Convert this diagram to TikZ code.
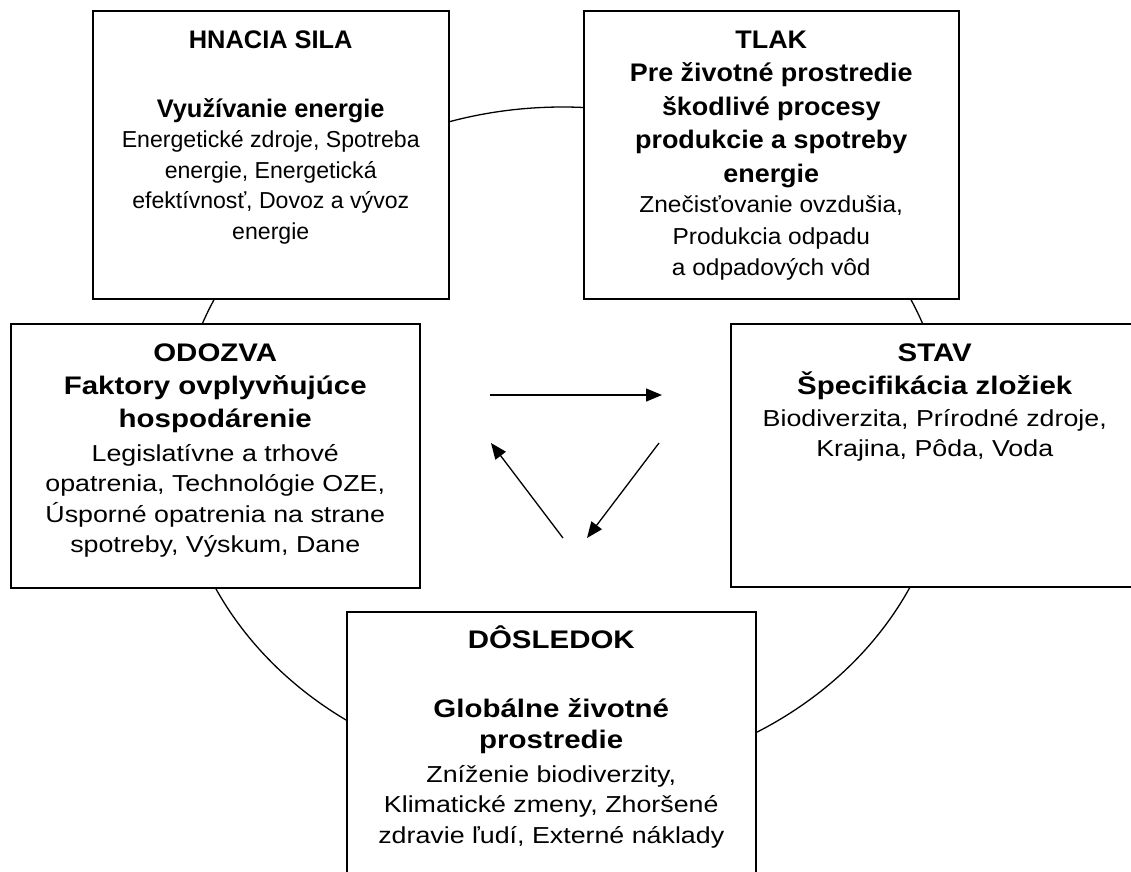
\documentclass[tikz,border=0pt]{standalone}
\usepackage{fontspec}
\setmainfont{Liberation Sans}
\newfontfamily\wideA[FakeStretch=1.06]{Liberation Sans}
\newfontfamily\wideB[FakeStretch=1.16]{Liberation Sans}
\usetikzlibrary{arrows.meta,positioning}

\newcommand{\bfnt}{\fontsize{25.4pt}{30.5pt}\selectfont\bfseries}
\newcommand{\nfnt}{\fontsize{23.1pt}{30.5pt}\selectfont}
\newcommand{\topstrut}{\rule{0pt}{24pt}}

\begin{document}
\begin{tikzpicture}[x=1pt,y=-1pt,
	box/.style={draw,line width=1.5pt,fill=white,anchor=north west,inner sep=0pt},
	boxtext/.style={anchor=north,align=center,inner sep=0pt,font=\nfnt},
	arr/.style={line width=1.3pt,-{Triangle[length=16pt,width=13pt]}}]
	\useasboundingbox (0,0) rectangle (1131,871);
	
	% cyklus za boxami
	\draw[line width=1.3pt] (562.5,442.5) ellipse [x radius=385, y radius=335.5];
	
	% boxy
	\node[box,minimum width=356pt,minimum height=288pt] (sila) at (92,10) {};
	\node[box,minimum width=375pt,minimum height=288pt] (tlak) at (583,10) {};
	\node[box,minimum width=409pt,minimum height=264pt] (odozva) at (10,323) {};
	\node[box,minimum width=408pt,minimum height=263pt] (stav) at (730,323) {};
	\node[box,minimum width=409pt,minimum height=300pt] (dosledok) at (346,611) {};
	
	% texty
	\node[boxtext,below=14pt of sila.north] (silatext) {\topstrut{\bfnt HNACIA SILA}\\[38.5pt]{\bfnt Využívanie energie}\\Energetické zdroje, Spotreba\\energie, Energetická\\efektívnosť, Dovoz a vývoz\\energie};
	\node[boxtext,font=\wideA\nfnt,below=14pt of tlak.north] (tlaktext) {\topstrut{\bfnt TLAK}\\[3pt]{\bfnt Pre životné prostredie}\\[3pt]{\bfnt škodlivé procesy}\\[3pt]{\bfnt produkcie a spotreby}\\[3pt]{\bfnt energie}\\Znečisťovanie ovzdušia,\\[1pt]Produkcia odpadu\\[1pt]a odpadových vôd};
	\node[boxtext,font=\wideB\nfnt,below=14pt of odozva.north] (odozvatext) {\topstrut{\bfnt ODOZVA}\\[3pt]{\bfnt Faktory ovplyvňujúce}\\[2.5pt]{\bfnt hospodárenie}\\[3pt]Legislatívne a trhové\\opatrenia, Technológie OZE,\\Úsporné opatrenia na strane\\spotreby, Výskum, Dane};
	\node[boxtext,font=\wideB\nfnt,below=14pt of stav.north] (stavtext) {\topstrut{\bfnt STAV}\\[2.5pt]{\bfnt Špecifikácia zložiek}\\[1.5pt]Biodiverzita, Prírodné zdroje,\\Krajina, Pôda, Voda};
	\node[boxtext,font=\wideB\nfnt,below=13pt of dosledok.north] (dosledoktext) {\topstrut{\bfnt DÔSLEDOK}\\[38.5pt]{\bfnt Globálne životné}\\[1pt]{\bfnt prostredie}\\[3pt]Zníženie biodiverzity,\\Klimatické zmeny, Zhoršené\\zdravie ľudí, Externé náklady};
	
	% sipky v strede
	\coordinate (h1) at (490,395);
	\coordinate (h2) at (662,395);
	\coordinate (d1) at (659,443);
	\coordinate (d2) at (587,538);
	\coordinate (u1) at (563,538);
	\coordinate (u2) at (491,443);
	\draw[arr] (h1) -- (h2);
	\draw[arr] (d1) -- (d2);
	\draw[arr] (u1) -- (u2);
\end{tikzpicture}
\end{document}
